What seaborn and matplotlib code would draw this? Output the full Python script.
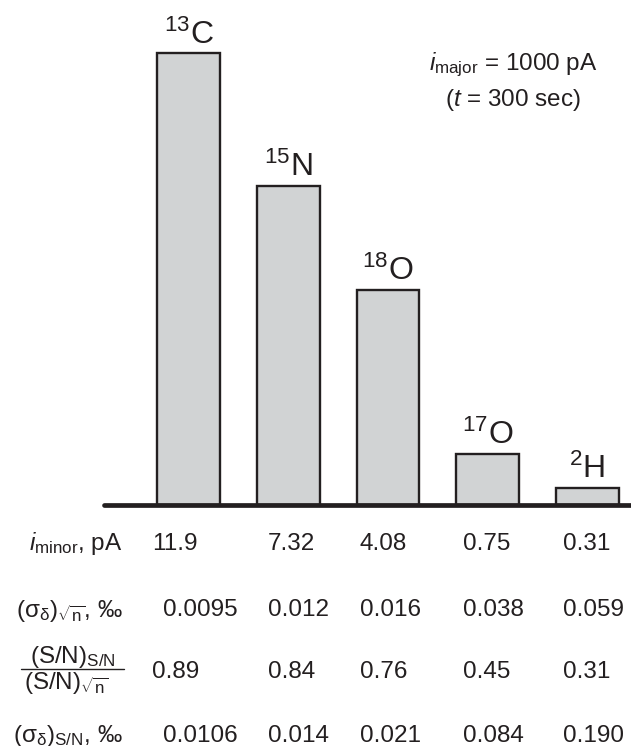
import matplotlib
matplotlib.use("Agg")
import matplotlib.pyplot as plt
from matplotlib.lines import Line2D
import pandas as pd
import seaborn as sns

# bars (heights, arbitrary units)
isotopes = ["13C", "15N", "18O", "17O", "2H"]
isotope_labels = [r"$^{13}$C", r"$^{15}$N", r"$^{18}$O", r"$^{17}$O", r"$^{2}$H"]
bar_heights = [452, 319, 215, 51, 17]

# table under the bars
i_minor = ["11.9", "7.32", "4.08", "0.75", "0.31"]
sigma_sqrt_n = ["0.0095", "0.012", "0.016", "0.038", "0.059"]
sn_ratio = ["0.89", "0.84", "0.76", "0.45", "0.31"]
sigma_sn = ["0.0106", "0.014", "0.021", "0.084", "0.190"]
row_labels = [r"$\mathit{i}_{\mathrm{minor}}$, pA",
              r"$(σ_{δ})_{\sqrt{n}}$, ‰",
              None,
              r"$(σ_{δ})_{S/N}$, ‰"]
frac_top = r"(S/N)$_{S/N}$"
frac_bottom = r"(S/N)$_{\sqrt{n}}$"
note_1 = r"$\mathit{i}_{\mathrm{major}}$ = 1000 pA"
note_2 = r"($\mathit{t}$ = 300 sec)"

sns.set_style("white")
plt.rcParams['font.family'] = ['Liberation Sans', 'DejaVu Sans']
plt.rcParams['mathtext.fontset'] = 'custom'
plt.rcParams['mathtext.rm'] = 'Liberation Sans'
plt.rcParams['mathtext.it'] = 'Liberation Sans:italic'
plt.rcParams['mathtext.bf'] = 'Liberation Sans:bold'
plt.rcParams['mathtext.default'] = 'regular'

ink = "#231f20"
fs = 17.5
W, H = 631, 746

def px(x, y):
    return x / W, 1 - y / H

fig = plt.figure(figsize=(W / 100, H / 100), dpi=100)
ax = fig.add_axes([104 / W, 1 - 504.5 / H, 1 - 104 / W, 504.5 / H])

df = pd.DataFrame({"isotope": isotopes, "height": bar_heights})
sns.barplot(data=df, x="isotope", y="height", color="#d1d3d4", saturation=1,
            width=0.63, edgecolor=ink, linewidth=1.7, ax=ax)
ax.set_xlim(-0.847, 4.436)
ax.set_ylim(0, 504.5)
ax.axhline(0, color=ink, lw=3.4, clip_on=False)
ax.axis("off")

for i, (lab, h) in enumerate(zip(isotope_labels, bar_heights)):
    ax.text(i, h + 9, lab, ha="center", va="baseline", fontsize=23, color=ink)

# note top right
fig.text(*px(513, 70), note_1, ha="center", va="baseline", fontsize=fs, color=ink)
fig.text(*px(513, 106), note_2, ha="center", va="baseline", fontsize=fs, color=ink)

# table
rows = [i_minor, sigma_sqrt_n, sn_ratio, sigma_sn]
baselines = [550, 616.5, 678, 742]
first_col = [152, 163, 152, 163]
col_x = [268, 360, 463, 563]
for r, vals in enumerate(rows):
    xs = [first_col[r]] + col_x
    for x, v in zip(xs, vals):
        fig.text(*px(x, baselines[r]), v, ha="left", va="baseline",
                 fontsize=fs, color=ink)
    if row_labels[r] is not None:
        fig.text(*px(123, baselines[r]), row_labels[r], ha="right", va="baseline",
                 fontsize=fs, color=ink)

# fraction label for the S/N ratio row
fig.text(*px(72.5, 663), frac_top, ha="center", va="baseline", fontsize=fs, color=ink)
fig.text(*px(66, 689), frac_bottom, ha="center", va="baseline", fontsize=fs, color=ink)
y_line = 1 - 669.3 / H
fig.add_artist(Line2D([21 / W, 124 / W], [y_line, y_line], transform=fig.transFigure,
                      color=ink, lw=1.0))

fig.savefig("out.png", dpi=100)
